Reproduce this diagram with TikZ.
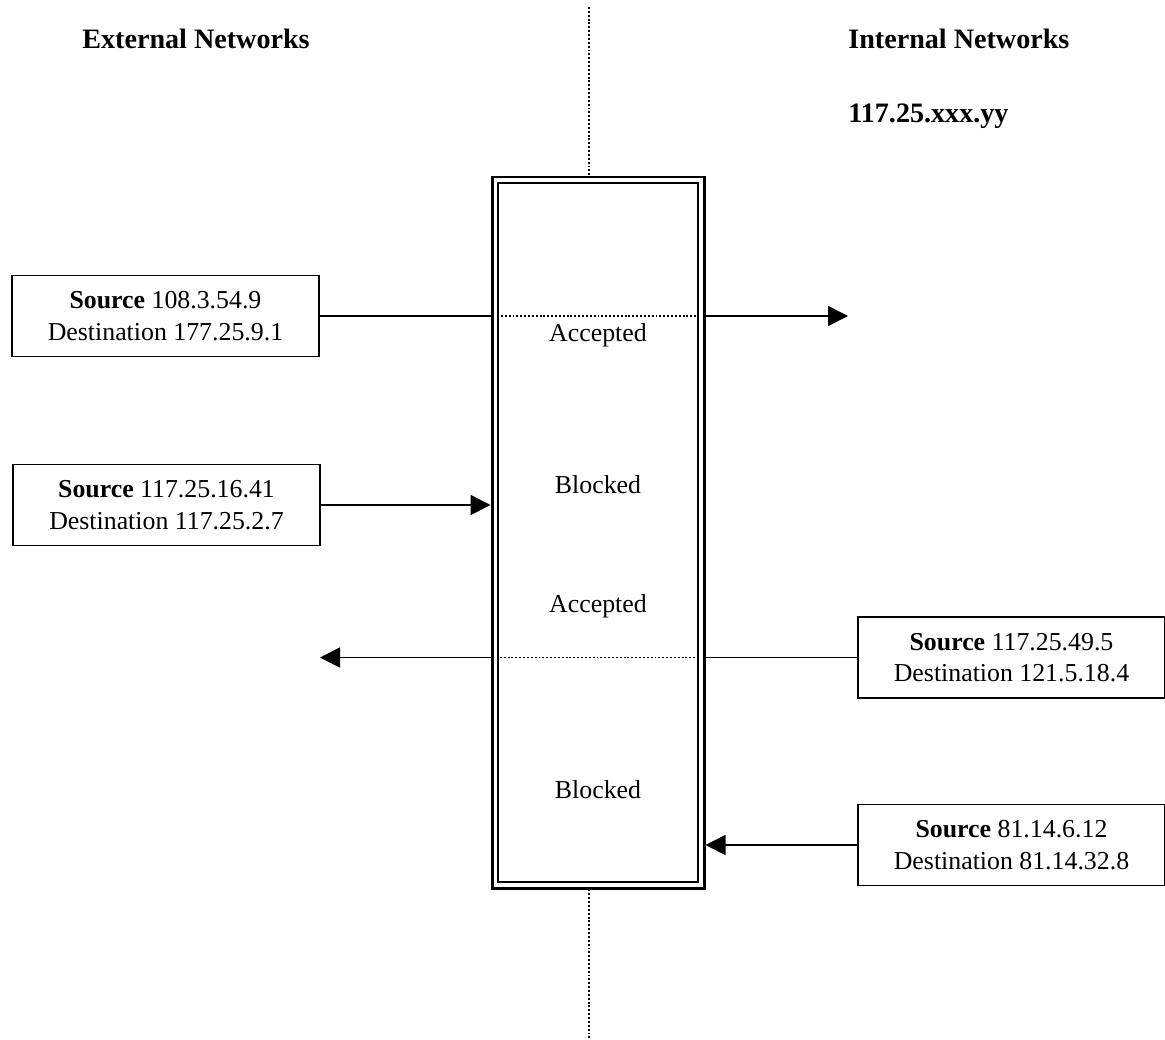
\documentclass[tikz,border=0pt]{standalone}
\usepackage{fontspec}
\setmainfont{Liberation Serif}
\usepackage{tikz}
\usetikzlibrary{arrows.meta,positioning,calc}

\begin{document}
\begin{tikzpicture}[
  packet/.style={draw=black, line width=0.9pt, fill=white,
                 minimum width=6.14cm, minimum height=1.62cm,
                 align=center, font=\fontsize{14.7}{18}\selectfont},
  heading/.style={font=\fontsize{16}{19}\selectfont\bfseries, inner sep=0pt},
  verdict/.style={font=\fontsize{14.7}{18}\selectfont},
  wall/.style={draw=black, minimum width=#1},
  dotline/.style={line width=0.75pt, dash pattern=on 1.1pt off 1.1pt},
  arr/.style={-{Triangle[length=0.4cm,width=0.4cm]}, line width=0.9pt},
  plain/.style={line width=0.9pt}
]
  \useasboundingbox (0,0) rectangle (23.3,-20.78);

  % firewall
  \node[wall=4.24cm, minimum height=14.22cm, line width=1.7pt] (fwout) at (11.96,-10.65) {};
  \node[wall=4.0cm, minimum height=13.98cm, line width=1.1pt] (fwin) at (11.96,-10.65) {};

  \coordinate (top) at (11.78,-0.14);
  \coordinate (bot) at (11.78,-20.78);
  \draw[dotline] (top) -- (top |- fwout.north);
  \draw[dotline] (top |- fwout.south) -- (bot);

  \node[heading, anchor=base] (ext) at (3.92,-0.96) {External Networks};
  \node[heading, anchor=base west] (int) at (16.96,-0.96) {Internal Networks};
  \node[heading, anchor=base west] (net) at (16.96,-2.44) {117.25.xxx.yy};

  \node[verdict] (acc1) at (11.96,-6.7) {Accepted};
  \node[verdict] (blk1) at (11.96,-9.7) {Blocked};
  \node[verdict] (acc2) at (11.96,-12.12) {Accepted};
  \node[verdict] (blk2) at (11.96,-15.8) {Blocked};

  % packets
  \node[packet] (p1) at (3.31,-6.32) {\textbf{Source} 108.3.54.9\\Destination 177.25.9.1};
  \node[packet] (p2) at (3.33,-10.1) {\textbf{Source} 117.25.16.41\\Destination 117.25.2.7};
  \node[packet] (p3) at (20.23,-13.15) {\textbf{Source} 117.25.49.5\\Destination 121.5.18.4};
  \node[packet] (p4) at (20.23,-16.9) {\textbf{Source} 81.14.6.12\\Destination 81.14.32.8};

  \coordinate (out1) at (16.96,-6.32);
  \coordinate (out3) at (6.4,-13.15);

  \draw[plain] (p1.east) -- (p1.east -| fwout.west);
  \draw[dotline] (p1.east -| fwin.west) -- (p1.east -| fwin.east);
  \draw[arr] (p1.east -| fwout.east) -- (out1);

  \draw[arr] (p2.east) -- (p2.east -| fwout.west);

  \draw[plain] (p3.west) -- (p3.west -| fwout.east);
  \draw[dotline] (p3.west -| fwin.east) -- (p3.west -| fwin.west);
  \draw[arr] (p3.west -| fwout.west) -- (out3);

  \draw[arr] (p4.west) -- (p4.west -| fwout.east);

\end{tikzpicture}
\end{document}
